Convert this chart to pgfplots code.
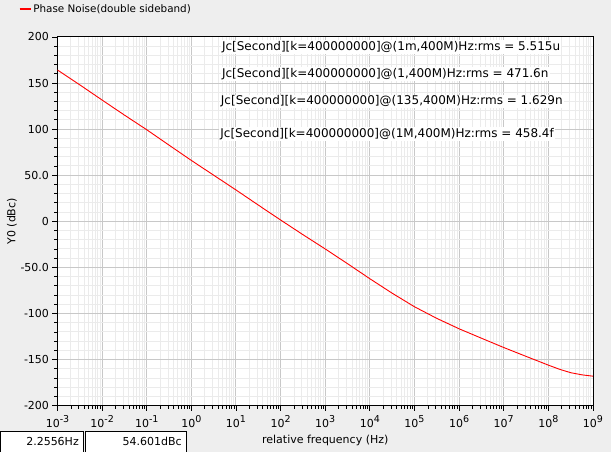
\documentclass[border=0pt]{standalone}
\usepackage{fontspec}
\setmainfont{DejaVu Sans}
\usepackage{pgfplots}
\pgfplotsset{compat=1.18}
\definecolor{panelbg}{HTML}{EEEEEE}
\definecolor{majgrid}{HTML}{C8C8C8}
\definecolor{mingrid}{HTML}{EBEBEB}
\definecolor{pnred}{HTML}{FF0000}
\newcommand{\dec}[1]{10\raisebox{5bp}{\fontsize{9.5bp}{10bp}\selectfont #1}}

\begin{document}
\begin{tikzpicture}
% whole window: axis box is 535.5 x 368.8 bp, placed at (0,0)
\useasboundingbox (-57.5bp,-46.3bp) rectangle (553.5bp,405.7bp);
\fill[panelbg] (-57.5bp,-46.3bp) rectangle (553.5bp,405.7bp);

\begin{axis}[
  at={(0bp,0bp)}, anchor=south west,
  scale only axis,
  width=535.5bp, height=368.8bp,
  xmode=log,
  xmin=1e-3, xmax=1e9,
  ymin=-200, ymax=200,
  axis background/.style={fill=white},
  axis line style={black, line width=1bp},
  tick pos=left,
  tick align=outside,
  major tick length=5bp,
  minor tick length=3bp,
  every tick/.style={black, line width=0.8bp},
  grid=both,
  major grid style={majgrid, line width=1bp},
  minor grid style={mingrid, line width=1bp},
  xtick={1e-3,1e-2,1e-1,1e0,1e1,1e2,1e3,1e4,1e5,1e6,1e7,1e8,1e9},
  xticklabels={\dec{-3},\dec{-2},\dec{-1},\dec{0},\dec{1},\dec{2},\dec{3},
               \dec{4},\dec{5},\dec{6},\dec{7},\dec{8},\dec{9}},
  ytick={-200,-150,-100,-50,0,50,100,150,200},
  yticklabels={-200,-150,-100,-50.0,0,50.0,100,150,200},
  minor y tick num=4,
  tick label style={font=\fontsize{11bp}{13bp}\selectfont, black},
  xticklabel style={yshift=-1bp},
  xlabel={relative frequency (Hz)},
  ylabel={Y0 (dBc)},
  label style={font=\fontsize{11bp}{13bp}\selectfont},
  xlabel style={at={(axis description cs:0.5,-0.093)}, anchor=center},
  ylabel style={at={(axis description cs:-0.085,0.5)}, anchor=center},
  legend style={at={(axis description cs:-0.072,1.0757)}, anchor=west,
                draw=none, fill=none, inner sep=0pt,
                font=\fontsize{10.4bp}{12bp}\selectfont},
  legend cell align=left,
  legend image code/.code={\draw[draw=pnred, line width=1.2bp] (0bp,0bp) -- (11bp,0bp);},
]
\addplot[pnred, line width=0.9bp] coordinates {
  (1e-3,164.1) (3.162e-3,148) (1e-2,131.5) (3.162e-2,115.2)
  (1e-1,99.3) (3.162e-1,82.6) (1e0,66) (3.162e0,50)
  (1e1,34) (3.162e1,17.6) (1e2,1.4) (3.162e2,-14.5)
  (1e3,-30) (3.162e3,-46) (1e4,-62.3) (3.162e4,-78)
  (1e5,-92.7) (3.162e5,-105.3) (1e6,-116.6) (3.162e6,-126.8)
  (1e7,-136.9) (3.162e7,-146.5) (1e8,-156) (1.778e8,-160.5)
  (3.162e8,-164.2) (5.623e8,-166.5) (1e9,-168)
};
\addlegendentry{Phase Noise(double sideband)}

\begin{scope}[every node/.style={fill=white, inner sep=1bp, anchor=west,
    font=\fontsize{12bp}{14bp}\selectfont}]
\node at (rel axis cs:0.305,0.972) {Jc[Second][k=400000000]@(1m,400M)Hz:rms = 5.515u};
\node at (rel axis cs:0.305,0.900) {Jc[Second][k=400000000]@(1,400M)Hz:rms = 471.6n};
\node at (rel axis cs:0.303,0.8254) {Jc[Second][k=400000000]@(135,400M)Hz:rms = 1.629n};
\node at (rel axis cs:0.302,0.7367) {Jc[Second][k=400000000]@(1M,400M)Hz:rms = 458.4f};
\end{scope}
\end{axis}

% status fields at the bottom left
\begin{scope}[font=\fontsize{11bp}{13bp}\selectfont]
\filldraw[fill=white, draw=black, line width=0.8bp] (-57.5bp,-46.3bp) rectangle (25.5bp,-25.3bp);
\filldraw[fill=white, draw=black, line width=0.8bp] (27.5bp,-46.3bp) rectangle (128.5bp,-25.3bp);
\node[anchor=east, inner sep=0pt] at (21.5bp,-35.8bp) {2.2556Hz};
\node[anchor=east, inner sep=0pt] at (124.5bp,-35.8bp) {54.601dBc};
\end{scope}
\end{tikzpicture}
\end{document}
